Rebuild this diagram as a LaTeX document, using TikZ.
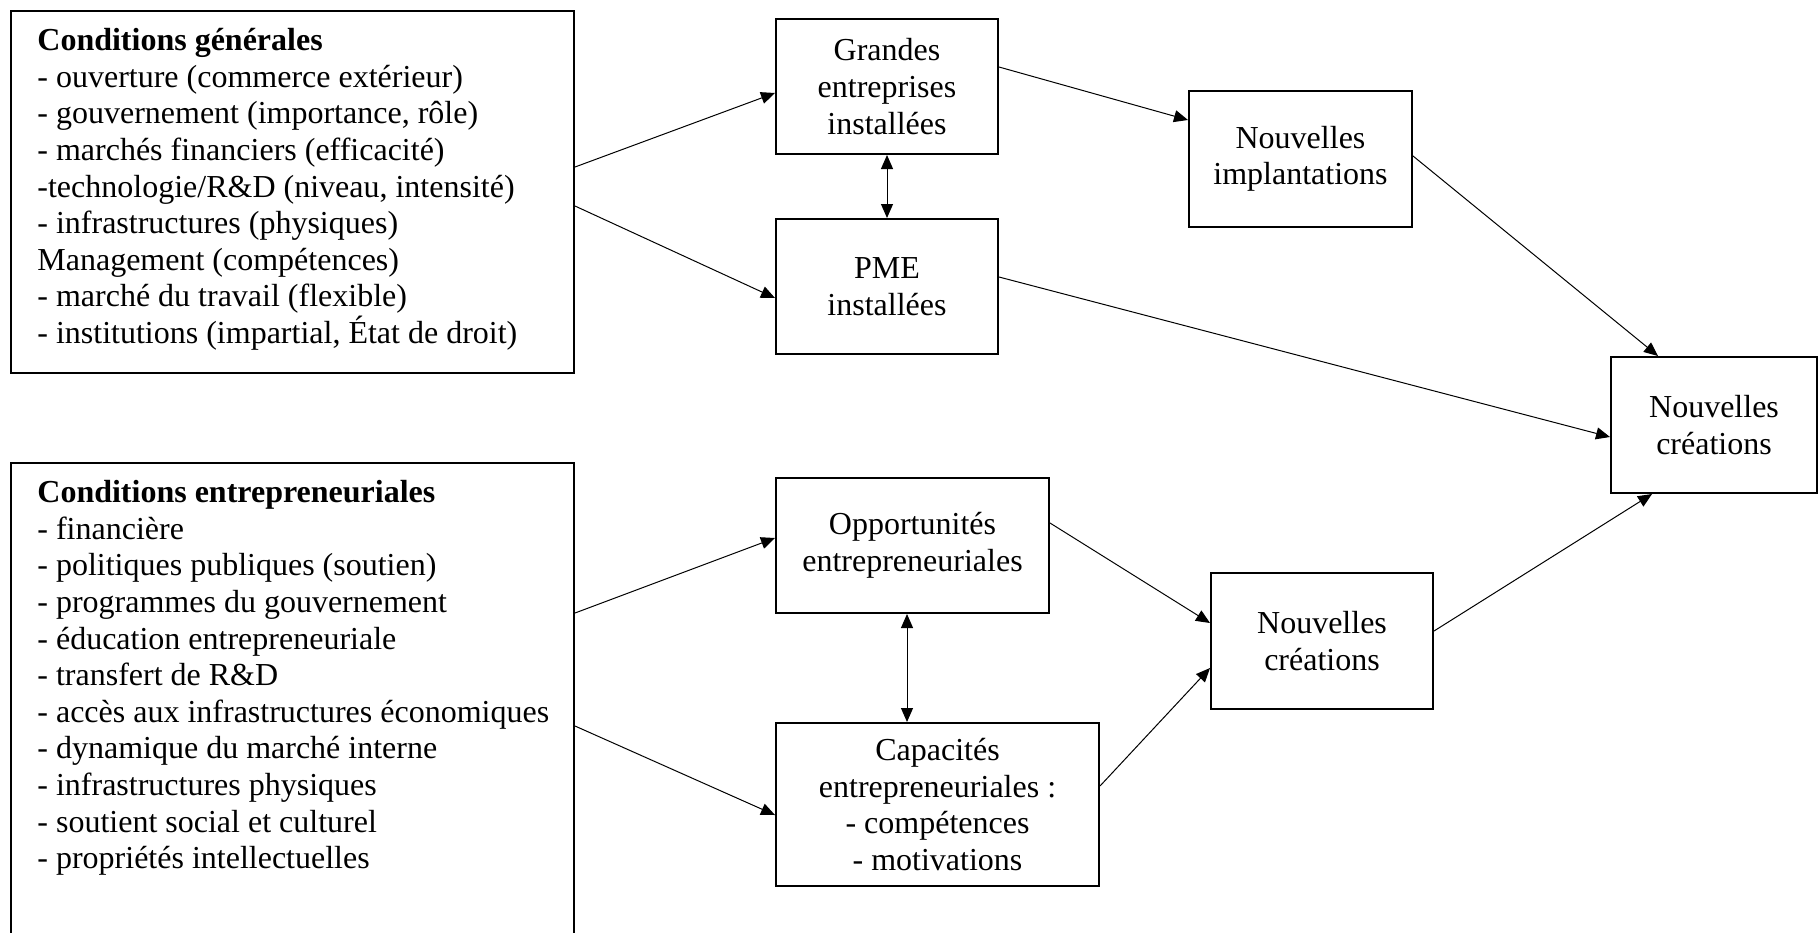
\documentclass[tikz,border=0pt]{standalone}
\usepackage{fontspec}
\setmainfont{Liberation Serif}
\usetikzlibrary{arrows.meta,positioning,calc}

\begin{document}
\begin{tikzpicture}[x=0.5pt,y=-0.5pt,
 box/.style={draw,line width=1pt,inner sep=0pt,align=center,
   font=\fontsize{16}{18.3}\selectfont},
 cond/.style={align=left,anchor=north west,inner sep=0pt,
   font=\fontsize{16}{18.3}\selectfont},
 arr/.style={-{Triangle[length=7pt,width=6pt]},line width=0.5pt},
 biarr/.style={{Triangle[length=7pt,width=6pt]}-{Triangle[length=7pt,width=6pt]},line width=0.5pt}]
\useasboundingbox (0,0) rectangle (1818,932);
% conditions (gauche)
\node[box,minimum width=281.5pt,minimum height=181pt] (gen) at (292.5,192) {};
\node[cond] (gen-txt) at (37,28) {\textbf{Conditions générales}\\
- ouverture (commerce extérieur)\\
- gouvernement (importance, rôle)\\
- marchés financiers (efficacité)\\
-technologie/R\&D (niveau, intensité)\\
- infrastructures (physiques)\\
Management (compétences)\\
- marché du travail (flexible)\\
- institutions (impartial, État de droit)};
\node[box,minimum width=281.5pt,minimum height=270pt,anchor=north] (entr) at (292.5,462) {};
\node[cond] (entr-txt) at (37,480) {\textbf{Conditions entrepreneuriales}\\
- financière\\
- politiques publiques (soutien)\\
- programmes du gouvernement\\
- éducation entrepreneuriale\\
- transfert de R\&D\\
- accès aux infrastructures économiques\\
- dynamique du marché interne\\
- infrastructures physiques\\
- soutient social et culturel\\
- propriétés intellectuelles};
% entreprises installees
\node[box,minimum width=111pt,minimum height=67.5pt] (grandes) at (887,86.5) {Grandes\\entreprises\\installées};
\node[box,minimum width=111pt,minimum height=67.5pt] (pme) at (887,286.5) {PME\\installées};
\node[box,minimum width=111.5pt,minimum height=68pt] (implant) at (1300.5,159) {Nouvelles\\implantations};
\node[box,minimum width=103pt,minimum height=68pt] (creaF) at (1714,425) {Nouvelles\\créations};
% dynamique entrepreneuriale
\node[box,minimum width=136.5pt,minimum height=67.5pt] (opport) at (912.5,545.5) {Opportunités\\entrepreneuriales};
\node[box,minimum width=161.5pt,minimum height=81.5pt] (capac) at (937.5,804.5) {Capacités\\entrepreneuriales :\\- compétences\\- motivations};
\node[box,minimum width=111pt,minimum height=68pt] (creaM) at (1322,641) {Nouvelles\\créations};
\coordinate (oc-top) at ($(opport.south)+(-5.5,0)$);
% fleches
\draw[arr] ($(gen.east)+(0,-25)$) -- ($(grandes.west)+(0,6.5)$);
\draw[arr] ($(gen.east)+(0,14)$) -- ($(pme.west)+(0,11.5)$);
\draw[biarr] (grandes.south) -- (pme.north);
\draw[arr] ($(grandes.east)+(0,-19.5)$) -- ($(implant.west)+(0,-39)$);
\draw[arr] ($(implant.east)+(0,-3)$) -- ($(creaF.north)+(-56,0)$);
\draw[arr] ($(pme.east)+(0,-9.5)$) -- ($(creaF.west)+(0,12)$);
\draw[arr] ($(entr.north east)+(0,151)$) -- ($(opport.west)+(0,-7.5)$);
\draw[arr] ($(entr.north east)+(0,264)$) -- ($(capac.west)+(0,10.5)$);
\draw[biarr] (oc-top) -- (oc-top |- capac.north);
\draw[arr] ($(opport.east)+(0,-22.5)$) -- ($(creaM.west)+(0,-18)$);
\draw[arr] ($(capac.east)+(0,-18.5)$) -- ($(creaM.west)+(0,27)$);
\draw[arr] ($(creaM.east)+(0,-10)$) -- ($(creaF.south)+(-62,0)$);
\end{tikzpicture}
\end{document}
